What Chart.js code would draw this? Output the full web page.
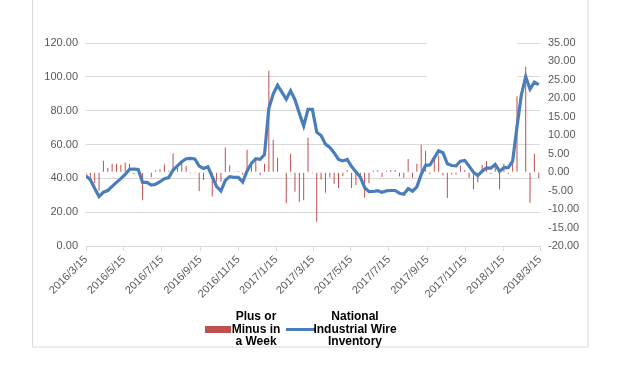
<!DOCTYPE html>
<html>
<head>
<meta charset="utf-8">
<script src="https://cdn.jsdelivr.net/npm/chart.js@4.4.1/dist/chart.umd.min.js"></script>
<style>
    html, body { margin: 0; padding: 0; background: #fff; }
    #wrap { width: 618px; height: 368px; }
</style>
</head>
<body>
<div id="wrap"><canvas id="chart" width="618" height="368"></canvas></div>
<script>
// weekly data, first week = 2016/3/15
const startDate = '2016/3/15';
const tickLabels = ['2016/3/15', '2016/5/15', '2016/7/15', '2016/9/15', '2016/11/15', '2017/1/15',
    '2017/3/15', '2017/5/15', '2017/7/15', '2017/9/15', '2017/11/15', '2018/1/15', '2018/3/15'];

const weeklyChange = [
    -1.4, -2.5, -3.0, -5.0, 3.1, 1.1, 2.3, 2.3, 2.0, 2.6,
    2.3, -0.5, 0.1, -7.6, 0.2, -1.4, 0.5, 0.8, 2.1, 0.4,
    5.1, 1.6, 2.4, 1.7, -0.3, -0.3, -5.2, -2.1, 0, -6.6,
    -2.6, -2.6, 6.7, 1.9, 0.2, 0.3, -0.7, 6.1, 2.8, 3.2,
    -0.8, 2.3, 27.5, 8.8, 3.9, 0, -8.4, 5.0, -5.3, -8.1,
    -7.6, 9.3, -0.3, -13.4, -2.0, -5.6, -1.4, -3.2, -4.3, -1.1,
    0.6, -4.3, -3.5, -1.3, -6.9, -3.0, 0.4, 0.5, -1.3, 0.3,
    0.6, 0.6, -1.2, -1.5, 3.6, -1.5, 2.3, 7.4, 5.8, -0.5,
    4.1, 4.5, -0.9, -7.0, -0.6, -0.6, 1.8, 0.6, -1.5, -4.7,
    -2.7, 2.0, 3.0, -0.5, 1.4, -4.7, 2.3, -0.5, 3.4, 20.6,
    0, 28.6, -8.3, 5.0, -1.6
];

const inventory = [
    41.4, 39.2, 34.0, 29.2, 31.8, 32.8, 35.2, 37.6, 39.8, 42.3,
    45.4, 45.5, 45.2, 37.6, 37.6, 36.0, 36.5, 38.0, 39.8, 40.4,
    44.9, 47.4, 49.8, 51.6, 51.8, 51.5, 47.2, 45.8, 46.8, 41.0,
    35.1, 32.6, 38.8, 41.0, 40.6, 40.6, 37.8, 44.4, 48.8, 51.6,
    51.2, 54.0, 81.4, 89.8, 95.0, 91.0, 86.7, 91.7, 86.5, 78.5,
    71.0, 80.8, 80.8, 67.3, 65.3, 60.2, 58.3, 55.0, 51.2, 50.3,
    51.2, 46.9, 43.9, 40.8, 34.6, 32.1, 32.2, 32.7, 31.7, 32.6,
    32.8, 32.8, 31.2, 30.6, 33.9, 32.4, 35.0, 42.3, 47.7, 47.9,
    52.1, 56.3, 55.1, 48.6, 47.6, 47.4, 50.1, 50.6, 47.2, 43.6,
    41.6, 44.2, 46.2, 46.0, 48.2, 44.1, 46.4, 46.3, 50.2, 70.5,
    89.3, 100.1, 92.7, 96.8, 95.4
];

function dayOf(label) {
    const [y, m, d] = label.split('/').map(Number);
    const [y0, m0, d0] = startDate.split('/').map(Number);
    return Math.round((Date.UTC(y, m - 1, d) - Date.UTC(y0, m0 - 1, d0)) / 86400000);
}

const tickDays = tickLabels.map(dayOf);
const barPoints = weeklyChange.map((v, i) => ({ x: i * 7, y: v }));
const linePoints = inventory.map((v, i) => ({ x: i * 7, y: v }));

const axisFont = { family: "'Liberation Sans', Arial, sans-serif", size: 11 };
const gridColor = '#d9d9d9';
const textColor = '#595959';

const chromePlugin = {
    id: 'chrome',
    beforeDatasetsDraw(chart) {
        // white patch that hides the top gridlines in the original
        const ctx = chart.ctx;
        ctx.save();
        ctx.fillStyle = '#fff';
        ctx.fillRect(427, 38, 91, 44);
        ctx.restore();
    },
    afterDraw(chart) {
        const ctx = chart.ctx;
        ctx.save();
        ctx.strokeStyle = gridColor;
        ctx.lineWidth = 1;
        ctx.strokeRect(32.5, -10, 555.5, 357);

        // legend
        ctx.fillStyle = '#c0504d';
        ctx.fillRect(205, 326, 26, 7);
        ctx.strokeStyle = '#4a7ebb';
        ctx.lineWidth = 3;
        ctx.beginPath();
        ctx.moveTo(286, 329.5);
        ctx.lineTo(315, 329.5);
        ctx.stroke();

        ctx.fillStyle = '#000';
        ctx.font = "bold 12px 'Liberation Sans', Arial, sans-serif";
        ctx.textAlign = 'center';
        ctx.textBaseline = 'middle';
        ['Plus or', 'Minus in', 'a Week'].forEach((t, i) => ctx.fillText(t, 256, 317 + i * 12.5));
        ['National', 'Industrial Wire', 'Inventory'].forEach((t, i) => ctx.fillText(t, 355, 317 + i * 12.5));
        ctx.restore();
    }
};

new Chart(document.getElementById('chart'), {
    type: 'bar',
    data: {
        datasets: [{
            type: 'line',
            label: 'National Industrial Wire Inventory',
            data: linePoints,
            yAxisID: 'y',
            borderColor: '#4a7ebb',
            borderWidth: 3.2,
            pointRadius: 0,
            tension: 0,
            order: 0,
        }, {
            type: 'bar',
            label: 'Plus or Minus in a Week',
            data: barPoints,
            yAxisID: 'y1',
            backgroundColor: '#c0504d',
            barThickness: 1,
            inflateAmount: 0,
            order: 1,
        }]
    },
    options: {
        responsive: false,
        animation: false,
        layout: { padding: { top: 43, left: 0, right: 0, bottom: 0 } },
        plugins: {
            legend: { display: false },
            tooltip: { enabled: false },
        },
        scales: {
            x: {
                type: 'linear',
                min: 0,
                max: tickDays[tickDays.length - 1],
                offset: false,
                afterBuildTicks: (scale) => {
                    scale.ticks = tickDays.map(v => ({ value: v }));
                },
                afterFit: (scale) => { scale.height = 122; },
                ticks: {
                    autoSkip: false,
                    maxRotation: 45,
                    minRotation: 45,
                    padding: 2,
                    color: textColor,
                    font: axisFont,
                    callback: (v, i) => tickLabels[i],
                },
                grid: { drawOnChartArea: false, offset: false, tickLength: 5, color: gridColor },
                border: { color: gridColor },
            },
            y: {
                position: 'left',
                min: 0,
                max: 120,
                afterFit: (scale) => { scale.width = 86; },
                ticks: {
                    stepSize: 20,
                    padding: 8,
                    color: textColor,
                    font: axisFont,
                    callback: v => v.toFixed(2),
                },
                grid: { color: gridColor, drawTicks: false },
                border: { display: false },
            },
            y1: {
                position: 'right',
                min: -20,
                max: 35,
                afterFit: (scale) => { scale.width = 78; },
                ticks: {
                    stepSize: 5,
                    padding: 8,
                    color: textColor,
                    font: axisFont,
                    callback: v => v.toFixed(2),
                },
                grid: { drawOnChartArea: false, drawTicks: false },
                border: { display: false },
            },
        }
    },
    plugins: [chromePlugin]
});
</script>
</body>
</html>
